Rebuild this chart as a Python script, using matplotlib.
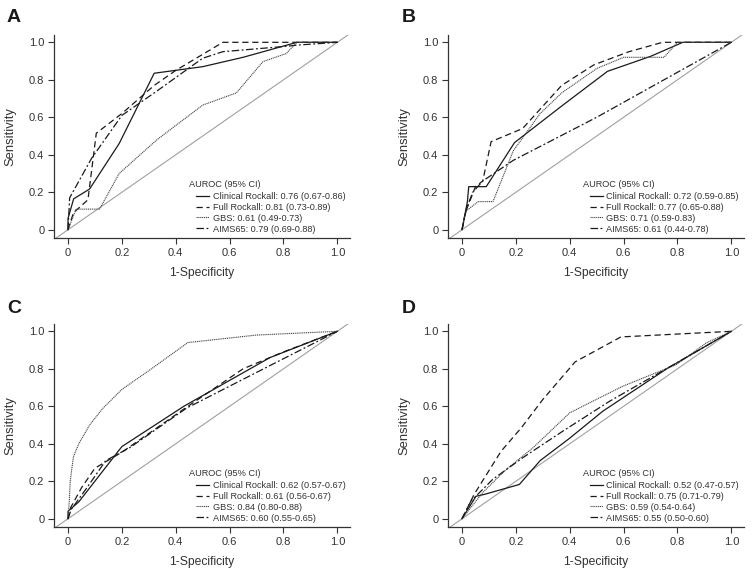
import matplotlib
matplotlib.use("Agg")
import matplotlib.pyplot as plt

plt.rcParams['font.family'] = ['Liberation Sans', 'DejaVu Sans']

# ---- Data ----
series_names = ["Clinical Rockall", "Full Rockall", "GBS", "AIMS65"]

# Panel A
A_clin_x = [0, 0, 0.021, 0.08, 0.19, 0.32, 0.5, 0.65, 0.85, 1.0]
A_clin_y = [0, 0.06, 0.165, 0.217, 0.46, 0.835, 0.87, 0.92, 1.0, 1.0]
A_full_x = [0, 0.02, 0.074, 0.105, 0.2, 0.32, 0.4, 0.575, 1.0]
A_full_y = [0, 0.09, 0.16, 0.515, 0.62, 0.77, 0.85, 1.0, 1.0]
A_gbs_x = [0, 0.03, 0.117, 0.19, 0.33, 0.5, 0.625, 0.724, 0.81, 0.85, 1.0]
A_gbs_y = [0, 0.11, 0.11, 0.3, 0.48, 0.665, 0.73, 0.897, 0.94, 1.0, 1.0]
A_aims_x = [0, 0.006, 0.087, 0.2, 0.33, 0.5, 0.575, 0.82, 0.85, 1.0]
A_aims_y = [0, 0.17, 0.38, 0.61, 0.74, 0.915, 0.95, 0.98, 0.985, 1.0]
A_labels = ["Clinical Rockall: 0.76 (0.67-0.86)", "Full Rockall: 0.81 (0.73-0.89)",
            "GBS: 0.61 (0.49-0.73)", "AIMS65: 0.79 (0.69-0.88)"]

# Panel B
B_clin_x = [0, 0.02, 0.025, 0.09, 0.195, 0.37, 0.54, 0.7, 0.82, 1.0]
B_clin_y = [0, 0.15, 0.23, 0.23, 0.465, 0.66, 0.845, 0.925, 1.0, 1.0]
B_full_x = [0, 0.012, 0.05, 0.077, 0.108, 0.225, 0.37, 0.49, 0.62, 0.745, 1.0]
B_full_y = [0, 0.09, 0.23, 0.26, 0.47, 0.54, 0.77, 0.88, 0.95, 1.0, 1.0]
B_gbs_x = [0, 0.015, 0.06, 0.115, 0.19, 0.29, 0.37, 0.5, 0.6, 0.75, 0.8, 1.0]
B_gbs_y = [0, 0.1, 0.15, 0.15, 0.42, 0.62, 0.73, 0.86, 0.92, 0.92, 1.0, 1.0]
B_aims_x = [0, 0.017, 0.04, 0.077, 0.19, 0.5, 0.75, 1.0]
B_aims_y = [0, 0.115, 0.2, 0.26, 0.37, 0.6, 0.8, 1.0]
B_labels = ["Clinical Rockall: 0.72 (0.59-0.85)", "Full Rockall: 0.77 (0.65-0.88)",
            "GBS: 0.71 (0.59-0.83)", "AIMS65: 0.61 (0.44-0.78)"]

# Panel C
C_clin_x = [0, 0, 0.04, 0.2, 0.43, 0.75, 1.0]
C_clin_y = [0, 0.04, 0.09, 0.385, 0.6, 0.86, 1.0]
C_full_x = [0, 0.01, 0.05, 0.1, 0.2, 0.43, 0.65, 0.8, 1.0]
C_full_y = [0, 0.06, 0.165, 0.27, 0.355, 0.585, 0.8, 0.89, 1.0]
C_gbs_x = [0, 0.005, 0.008, 0.02, 0.04, 0.08, 0.13, 0.2, 0.24, 0.3, 0.445, 0.7, 1.0]
C_gbs_y = [0, 0.1, 0.2, 0.33, 0.4, 0.5, 0.59, 0.69, 0.73, 0.79, 0.94, 0.98, 1.0]
C_aims_x = [0, 0.012, 0.07, 0.14, 0.23, 0.44, 0.74, 1.0]
C_aims_y = [0, 0.05, 0.165, 0.31, 0.38, 0.59, 0.81, 1.0]
C_labels = ["Clinical Rockall: 0.62 (0.57-0.67)", "Full Rockall: 0.61 (0.56-0.67)",
            "GBS: 0.84 (0.80-0.88)", "AIMS65: 0.60 (0.55-0.65)"]

# Panel D
D_clin_x = [0, 0.052, 0.083, 0.213, 0.29, 0.4, 0.523, 0.76, 1.0]
D_clin_y = [0, 0.12, 0.13, 0.183, 0.31, 0.43, 0.574, 0.8, 1.0]
D_full_x = [0, 0.045, 0.145, 0.22, 0.3, 0.42, 0.59, 1.0]
D_full_y = [0, 0.13, 0.36, 0.485, 0.636, 0.837, 0.97, 1.0]
D_gbs_x = [0, 0.077, 0.164, 0.263, 0.4, 0.473, 0.597, 0.795, 0.907, 1.0]
D_gbs_y = [0, 0.14, 0.263, 0.378, 0.565, 0.618, 0.707, 0.822, 0.938, 1.0]
D_aims_x = [0, 0.033, 0.114, 0.225, 0.374, 0.548, 0.795, 1.0]
D_aims_y = [0, 0.094, 0.21, 0.325, 0.467, 0.627, 0.83, 1.0]
D_labels = ["Clinical Rockall: 0.52 (0.47-0.57)", "Full Rockall: 0.75 (0.71-0.79)",
            "GBS: 0.59 (0.54-0.64)", "AIMS65: 0.55 (0.50-0.60)"]

ticks = [0, 0.2, 0.4, 0.6, 0.8, 1.0]
tick_labels = ["0", "0.2", "0.4", "0.6", "0.8", "1.0"]
panel_letters = ["A", "B", "C", "D"]
legend_title = "AUROC (95% CI)"

panels = [
    (A_clin_x, A_clin_y, A_full_x, A_full_y, A_gbs_x, A_gbs_y, A_aims_x, A_aims_y, A_labels),
    (B_clin_x, B_clin_y, B_full_x, B_full_y, B_gbs_x, B_gbs_y, B_aims_x, B_aims_y, B_labels),
    (C_clin_x, C_clin_y, C_full_x, C_full_y, C_gbs_x, C_gbs_y, C_aims_x, C_aims_y, C_labels),
    (D_clin_x, D_clin_y, D_full_x, D_full_y, D_gbs_x, D_gbs_y, D_aims_x, D_aims_y, D_labels),
]

W, H = 752, 577
fig = plt.figure(figsize=(W / 100, H / 100), dpi=100)
fig.patch.set_facecolor("white")

# axes rectangles in pixels: left, top, right, bottom
rects = [(54, 35, 350, 238), (448, 35, 744, 238),
         (54, 324, 350, 527), (448, 324, 744, 527)]
letter_pos = [(7, 22), (402, 22), (7, 313), (402, 313)]

line_col = "#1a1a1a"
text_col = "#333333"
styles = [dict(ls="-", lw=0.9, color=line_col),
          dict(ls=(0, (5, 3)), lw=0.9, color=line_col),
          dict(ls=(0, (1, 0.7)), lw=0.8, color="#444444"),
          dict(ls=(0, (6, 2, 1.5, 2)), lw=0.9, color=line_col)]

# legend offsets in pixels relative to the axes box (left spine / bottom spine)
title_dx, title_dy = 135, 53.5
handle_dx = 142

for i, (p, r) in enumerate(zip(panels, rects)):
    l, t, rr, b = r
    aw, ah = rr - l, b - t
    ax = fig.add_axes([l / W, 1 - b / H, aw / W, ah / H])
    ax.set_xlim(-0.052, 1.047)
    ax.set_ylim(-0.044, 1.039)
    ax.plot([-1, 2], [-1, 2], color="#a0a0a0", lw=0.8, zorder=1)
    xs = [p[0], p[2], p[4], p[6]]
    ys = [p[1], p[3], p[5], p[7]]
    labels = p[8]
    for k in range(4):
        ax.plot(xs[k], ys[k], label=labels[k], zorder=2, **styles[k])
    for s in ["top", "right"]:
        ax.spines[s].set_visible(False)
    for s in ["left", "bottom"]:
        ax.spines[s].set_color("#333333")
        ax.spines[s].set_linewidth(0.9)
    ax.set_xticks(ticks)
    ax.set_xticklabels(tick_labels)
    ax.set_yticks(ticks)
    ax.set_yticklabels(tick_labels)
    ax.tick_params(direction="out", length=4, width=0.8, colors="#333333",
                   labelsize=8, labelcolor=text_col, pad=3)
    ax.set_xlabel("1-Specificity", fontsize=8.7, color=text_col, labelpad=7)
    ax.set_ylabel("Sensitivity", fontsize=9.4, color=text_col, labelpad=9)
    ax.text(title_dx / aw, title_dy / ah, legend_title,
            transform=ax.transAxes, fontsize=6.6, color=text_col,
            ha="left", va="center")
    leg = ax.legend(loc="lower left", bbox_to_anchor=(handle_dx / aw, 0.022),
                    frameon=False, fontsize=6.6,
                    handlelength=1.45, handletextpad=0.35, labelspacing=0.2,
                    borderpad=0, borderaxespad=0)
    for txt in leg.get_texts():
        txt.set_color(text_col)
    lx, ly = letter_pos[i]
    fig.text(lx / W, 1 - ly / H, panel_letters[i], fontsize=14, fontweight="bold",
             color="#1a1a1a", ha="left", va="baseline")

fig.savefig("out.png", dpi=100, facecolor="white")
